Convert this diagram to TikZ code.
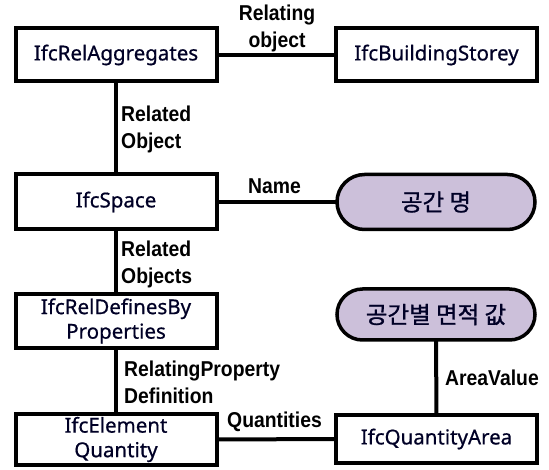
\documentclass[tikz,border=0pt]{standalone}
\usepackage{fontspec}
\usetikzlibrary{shapes.misc}
\setmainfont{Noto Sans}[FakeBold=0.6]
\newfontfamily\krfont{Noto Sans CJK KR}[FakeBold=1]
\newfontfamily\labfont{Liberation Sans}[FakeStretch=0.9]
\definecolor{capfill}{HTML}{CCC0DA}
\begin{document}
\begin{tikzpicture}[x=1pt,y=-1pt,
  ent/.style={draw=black, line width=4pt, fill=white, rectangle, minimum width=201pt, inner sep=0pt, outer sep=0pt, align=center, font=\fontsize{20.5}{24.5}\selectfont, text=black!85!blue},
  val/.style={draw=black, line width=3.5pt, fill=capfill, rounded rectangle, minimum width=198pt, inner sep=0pt, outer sep=0pt, font=\krfont\fontsize{23.5}{26}\selectfont, text=black!85!blue},
  conn/.style={line width=4pt, black},
  lab/.style={font=\labfont\bfseries\fontsize{21.5}{27}\selectfont, inner sep=0pt, align=left}
]
\useasboundingbox (0,0) rectangle (549,470);
% nodes
\node[ent, minimum height=53pt] (agg) at (116,55) {IfcRelAggregates};
\node[ent, minimum height=53pt] (storey) at (436.5,55) {IfcBuildingStorey};
\node[ent, minimum height=55pt] (space) at (116,202) {IfcSpace};
\node[val, minimum height=55pt] (name) at (436,202) {공간 명};
\node[ent, minimum height=54pt] (rdp) at (116,321) {IfcRelDefinesBy\\Properties};
\node[val, minimum height=51pt] (area) at (436,314.5) {공간별 면적 값};
\node[ent, minimum height=51pt] (eq) at (116,439.5) {IfcElement\\Quantity};
\node[ent, minimum height=48pt] (qa) at (436.5,439) {IfcQuantityArea};
% connectors
\draw[conn] (agg.east) -- (storey.west);
\draw[conn] (agg.south) -- (space.north);
\draw[conn] (space.east) -- (name.west);
\draw[conn] (space.south) -- (rdp.north);
\draw[conn] (rdp.south) -- (eq.north);
\draw[conn] (eq.east) -- (qa.west);
\draw[conn] (area.south) -- (qa.north);
% labels
\node[lab, align=center] (l1) at (277,28) {Relating\\object};
\node[lab, anchor=west] (l2) at (121,129) {Related\\Object};
\node[lab, anchor=west] (l3) at (248,186) {Name};
\node[lab, anchor=west] (l4) at (121,264) {Related\\Objects};
\node[lab, anchor=west] (l5) at (124,382) {RelatingProperty\\Definition};
\node[lab, anchor=west] (l6) at (227,422) {Quantities};
\node[lab, anchor=west] (l7) at (445,378) {AreaValue};
\end{tikzpicture}
\end{document}
